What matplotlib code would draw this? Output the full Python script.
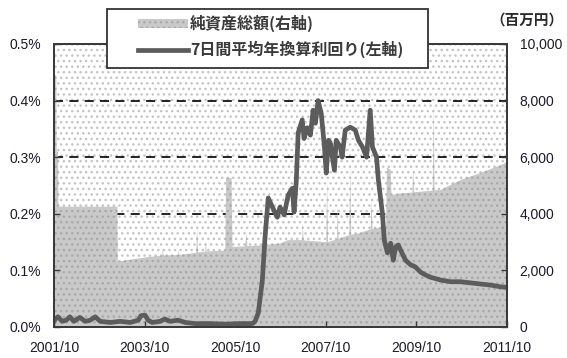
import numpy as np
import matplotlib.pyplot as plt
from matplotlib.patches import Rectangle
from matplotlib.ticker import FuncFormatter

plt.rcParams['font.family'] = ['Liberation Sans', 'Noto Sans CJK JP', 'DejaVu Sans']
plt.rcParams['hatch.linewidth'] = 1.0

# Net assets (millions of yen, right axis), decimal year dates
asset_t = [2001.75, 2001.80, 2001.81, 2001.84, 2001.85, 2003.15, 2003.16, 2003.43,
           2003.87, 2004.14, 2004.15, 2004.17, 2004.49, 2004.50, 2004.52, 2004.89,
           2004.91, 2004.93, 2005.09, 2005.10, 2005.12, 2005.53, 2005.55, 2005.67,
           2005.69, 2005.97, 2006.00, 2006.02, 2006.30, 2006.74, 2006.92, 2007.23,
           2007.24, 2007.26, 2007.76, 2007.78, 2007.80, 2008.00, 2008.01, 2008.03,
           2008.27, 2008.29, 2008.31, 2008.51, 2008.74, 2008.76, 2008.78, 2009.08,
           2009.10, 2009.18, 2009.20, 2009.40, 2009.66, 2009.68, 2009.70, 2010.11,
           2010.13, 2010.15, 2010.28, 2010.72, 2011.16, 2011.61, 2011.75]
asset_v = [8900, 8900, 6200, 6200, 4250, 4250, 2310, 2380,
           2480, 2520, 2750, 2530, 2540, 2700, 2550, 2620,
           3500, 2640, 2660, 3000, 2670, 2700, 5260, 5260,
           2830, 2850, 3300, 2860, 2880, 2950, 3070, 3070,
           3670, 3060, 3000, 5190, 3000, 3100, 4380, 3120,
           3250, 5800, 3260, 3320, 3450, 4490, 3470, 3550,
           5650, 5550, 4660, 4720, 4750, 5550, 4760, 4820,
           7900, 4830, 4840, 5190, 5440, 5720, 5830]

# 7-day average annualised yield (%, left axis)
yield_t = [2001.75, 2001.79, 2001.84, 2001.93, 2002.02, 2002.10, 2002.19, 2002.32,
           2002.44, 2002.55, 2002.66, 2002.77, 2002.99, 2003.21, 2003.43, 2003.61,
           2003.67, 2003.76, 2003.83, 2003.92, 2004.09, 2004.20, 2004.31, 2004.49,
           2004.65, 2004.87, 2005.20, 2005.53, 2005.86, 2006.13, 2006.19, 2006.26,
           2006.35, 2006.41, 2006.48, 2006.57, 2006.68, 2006.74, 2006.83, 2006.92,
           2007.01, 2007.05, 2007.10, 2007.14, 2007.23, 2007.27, 2007.34, 2007.41,
           2007.47, 2007.52, 2007.58, 2007.65, 2007.72, 2007.76, 2007.81, 2007.85,
           2007.94, 2007.98, 2008.07, 2008.11, 2008.18, 2008.29, 2008.40, 2008.47,
           2008.56, 2008.65, 2008.73, 2008.78, 2008.87, 2008.91, 2009.00, 2009.04,
           2009.11, 2009.18, 2009.24, 2009.29, 2009.35, 2009.40, 2009.51, 2009.62,
           2009.73, 2009.84, 2009.95, 2010.06, 2010.28, 2010.50, 2010.72, 2010.94,
           2011.16, 2011.39, 2011.61, 2011.75]
yield_v = [0.010, 0.015, 0.018, 0.010, 0.012, 0.018, 0.010, 0.017,
           0.010, 0.012, 0.018, 0.010, 0.008, 0.010, 0.008, 0.012,
           0.020, 0.021, 0.012, 0.008, 0.010, 0.014, 0.010, 0.012,
           0.008, 0.006, 0.006, 0.005, 0.006, 0.006, 0.010, 0.025,
           0.083, 0.160, 0.228, 0.212, 0.194, 0.212, 0.198, 0.233,
           0.245, 0.203, 0.260, 0.343, 0.366, 0.333, 0.352, 0.339,
           0.383, 0.360, 0.400, 0.377, 0.318, 0.272, 0.330, 0.325,
           0.277, 0.330, 0.318, 0.300, 0.348, 0.353, 0.348, 0.330,
           0.318, 0.300, 0.383, 0.318, 0.300, 0.260, 0.200, 0.154,
           0.131, 0.148, 0.118, 0.141, 0.145, 0.136, 0.118, 0.110,
           0.106, 0.097, 0.092, 0.088, 0.083, 0.080, 0.080, 0.078,
           0.076, 0.074, 0.071, 0.070]

x_ticks = [2001.75, 2003.75, 2005.75, 2007.75, 2009.75, 2011.75]
x_labels = ['2001/10', '2003/10', '2005/10', '2007/10', '2009/10', '2011/10']
label_assets = '純資産総額(右軸)'
label_yield = '7日間平均年換算利回り(左軸)'

jp = ['Noto Sans CJK JP', 'DejaVu Sans']

fig = plt.figure(figsize=(5.67, 3.58), dpi=100)
ax = fig.add_axes([0.0952, 0.0866, 0.7990, 0.7905])
ax2 = ax.twinx()

# right axis (assets) sits underneath, left axis (yield) on top
ax.set_zorder(ax2.get_zorder() + 1)
ax.patch.set_visible(False)

# dotted background
ax2.add_patch(Rectangle((0, 0), 1, 1, transform=ax2.transAxes, facecolor='white',
                        edgecolor='#c4c4c4', hatch='...', lw=0, zorder=0))

for g in [2000, 4000, 6000, 8000]:
    ax2.axhline(g, color='#111111', lw=1.3, ls=(0, (5, 3.5)), zorder=0.5)

area = ax2.fill_between(asset_t, asset_v, 0, facecolor='#c9c9c9', edgecolor='#a9a9a9',
                        hatch='...', lw=0, zorder=1, label=label_assets)
line, = ax.plot(yield_t, yield_v, color='#5c5c5c', lw=3.4, solid_joinstyle='round',
                label=label_yield)

ax.set_xlim(2001.75, 2011.75)
ax.set_ylim(0, 0.5)
ax2.set_ylim(0, 10000)
ax.set_xticks(x_ticks)
ax.set_xticklabels(x_labels)
ax.set_yticks(np.arange(0, 0.51, 0.1))
ax.yaxis.set_major_formatter(FuncFormatter(lambda v, p: '%.1f%%' % v))
ax2.set_yticks(np.arange(0, 10001, 2000))
ax2.yaxis.set_major_formatter(FuncFormatter(lambda v, p: '{:,.0f}'.format(v)))

for a in (ax, ax2):
    for s in a.spines.values():
        s.set_color('#3a3a3a')
        s.set_linewidth(1.4)
ax.tick_params(axis='both', direction='in', length=4, width=1, color='#3a3a3a',
               labelsize=10, labelcolor='#1a1a2a')
ax.tick_params(axis='x', pad=10)
ax.tick_params(axis='y', pad=9)
ax2.tick_params(axis='y', direction='in', length=4, width=1, color='#3a3a3a',
                labelsize=10, labelcolor='#1a1a2a', pad=9)

# legend box, wider than the entries
ax.add_patch(Rectangle((107 / 567, 1 - 68 / 358), 321 / 567, 59 / 358,
                       transform=fig.transFigure, facecolor='white',
                       edgecolor='#333333', lw=1.3, zorder=4, clip_on=False))
leg = ax.legend([area, line], [label_assets, label_yield], loc='upper left',
                bbox_to_anchor=(138 / 567, 1 - 15 / 358),
                bbox_transform=fig.transFigure, frameon=False, borderpad=0,
                borderaxespad=0, handlelength=3.1, handleheight=0.5,
                handletextpad=0.15, labelspacing=0.55,
                prop={'family': jp, 'size': 11.5, 'weight': 'bold'})
leg.set_zorder(5)
for t in leg.get_texts():
    t.set_color('#3a3a3a')

fig.text(564 / 567, 1 - 20 / 358, '（百万円）', ha='right', va='center', fontsize=10.5,
         family=jp, weight='bold', color='#2a2a2a')

fig.savefig('out.png', dpi=100)
